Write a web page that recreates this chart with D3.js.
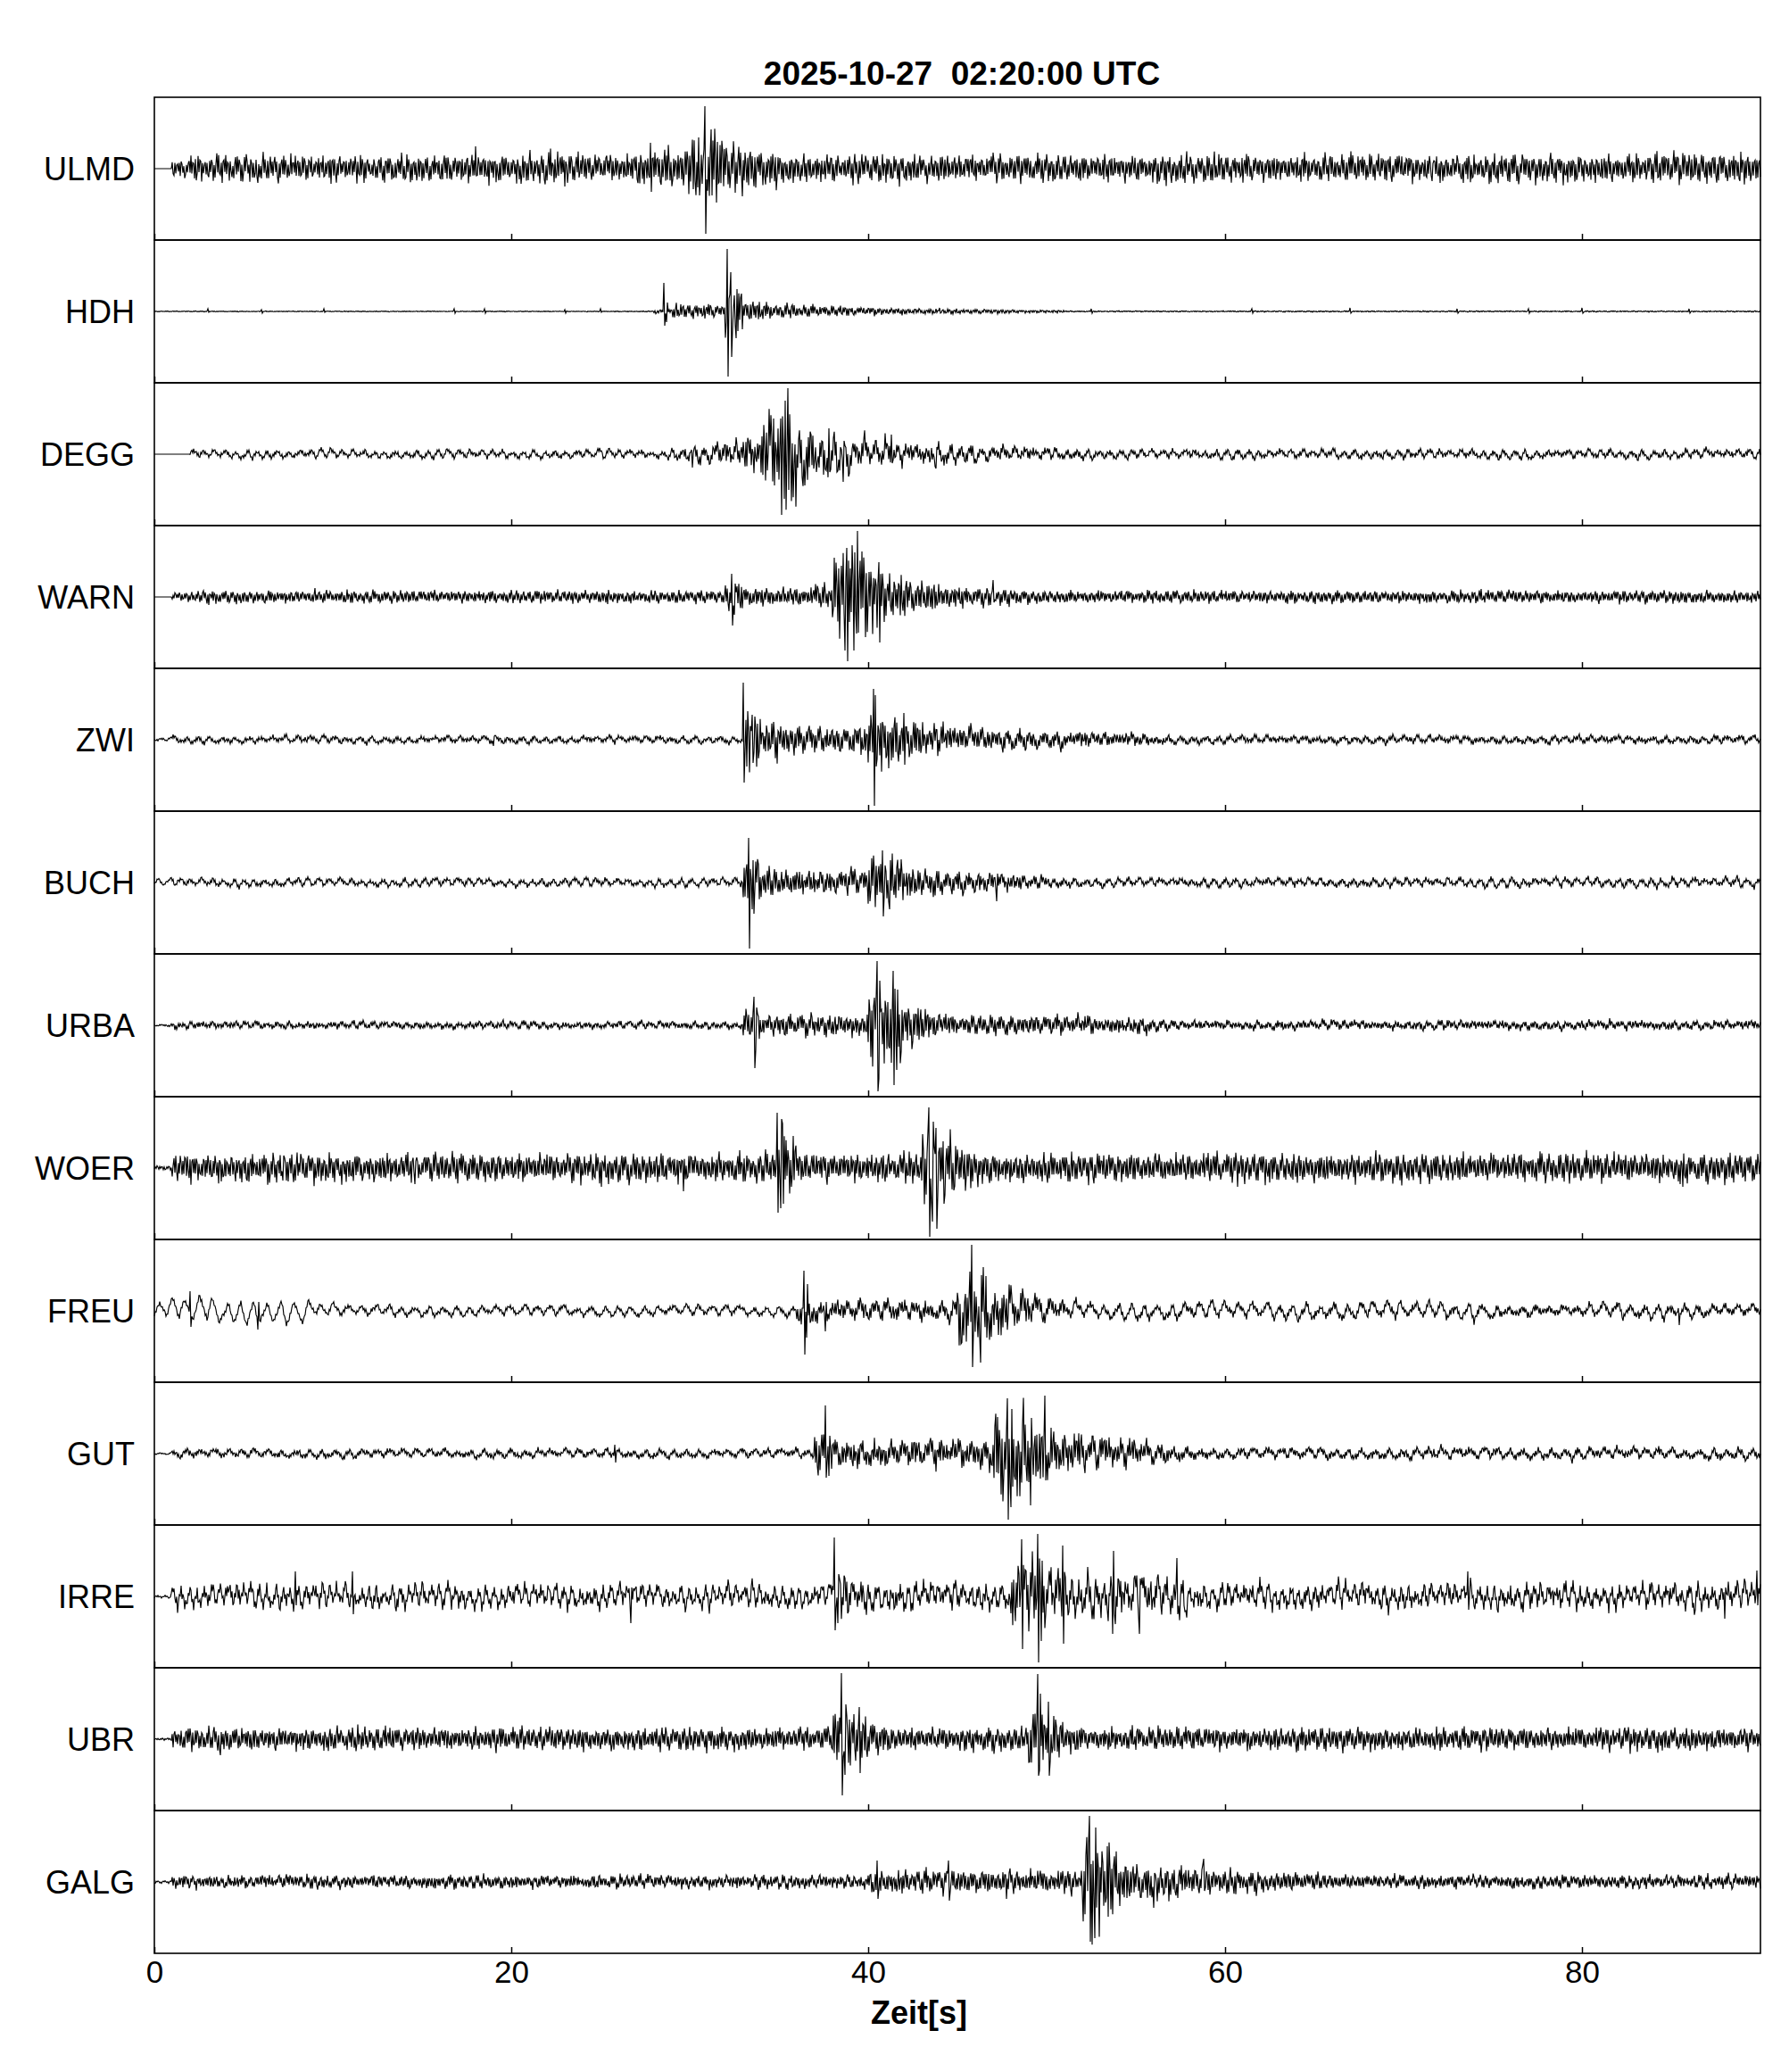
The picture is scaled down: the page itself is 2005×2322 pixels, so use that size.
<!DOCTYPE html>
<html><head><meta charset="utf-8">
<script src="https://cdn.jsdelivr.net/npm/d3@7"></script>
<style>html,body{margin:0;padding:0;background:#fff;}svg{display:block;}</style>
</head><body>
<svg id="chart" width="2005" height="2322"></svg>
<script>
// ---------------- DATA ----------------
const title = "2025-10-27  02:20:00 UTC";
const xLabel = "Zeit[s]";
const stations = ["ULMD","HDH","DEGG","WARN","ZWI","BUCH","URBA","WOER","FREU","GUT","IRRE","UBR","GALG"];
const xTicks = [0,20,40,60,80];
const timeRange = [0,90];

// high-frequency envelope per second (relative amplitude units), bins 0..89
const hiULMD = [0,10,13,13,13,13,13,13,13,13, 13,13,12,13,13,13,14,14,15,14, 14,15,15,14,13,13,14,18,20,20,
  30,32,24,20,18,16,14,14,13,14, 13,14,13,13,14,13,13,14,13,13, 14,13,13,14,13,13,14,13,13,14,
  13,14,13,13,14,13,13,14,13,14, 13,14,13,14,13,14,14,13,14,14, 14,14,13,14,15,15,15,15,16,16];
const hiHDH = [0.4,0.4,0.4,0.4,0.4,0.4,0.4,0.4,0.4,0.4, 0.4,0.4,0.4,0.4,0.4,0.4,0.4,0.4,0.4,0.4, 0.4,0.4,0.4,0.4,0.4,0.4,0.4,0.4,2,7,
  7,7,24,12,8,7,6,5,5,4, 4,3.5,3,2.5,2.5,2,2,2,1.5,1.5, 1.5,0.6,0.6,0.6,0.6,0.6,0.6,0.6,0.6,0.6,
  0.6,0.6,0.6,0.6,0.6,0.6,0.6,0.6,0.6,0.6, 0.6,0.6,0.6,0.6,0.6,0.6,0.6,0.6,0.6,0.6, 0.6,0.6,0.6,0.6,0.6,0.6,0.6,0.6,0.6,0.6];
const hiDEGG = [0,0,2.5,2.5,2.5,2.5,2.5,2.5,2.5,2.5, 2.5,2.5,2.5,2.5,2.5,2.5,2.5,2.5,2.5,2.5, 2.5,2.5,2.5,2.5,2.5,2.5,2.5,2.5,2.5,5,
  7,8,10,15,35,45,25,18,16,12, 10,9,8,8,7,7,6,6,5,5, 4,4,3,3,3,3,3,3,3,3,
  3,3,3,3,3,3,3,3,3,3, 3,3,3,3,3,3,3,3,3,3, 3,3,3,3,3,3,3,3,3,3];
const hiWARN = [0,4,6,6,6,6,6,6,6,6, 6,6,6,6,6,6,6,6,6,6, 6,6,6,6,6,6,6,6,6,6,
  6,6,14,10,9,9,9,12,40,45, 30,22,18,15,12,10,9,8,7,6, 6,6,6,6,6,6,6,6,6,6,
  6,6,6,6,6,6,6,6,6,6, 6,6,6,6,6,6,6,6,6,6, 6,6,6,6,6,6,6,6,6,6];
const hiZWI = [1,2.5,2.5,2.5,2.5,2.5,2.5,2.5,2.5,2.5, 2.5,2.5,2.5,2.5,2.5,2.5,2.5,2.5,2.5,2.5, 2.5,2.5,2.5,2.5,2.5,2.5,2.5,2.5,2.5,2.5,
  2.5,2.5,2.5,28,18,14,12,12,12,14, 30,25,18,14,12,11,10,9,9,8, 8,7,7,6,6,5,4,3,3,3,
  3,3,3,3,3,3,3,3,3,3, 3,3,3,3,3,3,3,3,3,3, 3,3,3,3,3,3,3,3,3,3];
const hiBUCH = [1.5,2.5,2.5,2.5,2.5,2.5,2.5,2.5,2.5,2.5, 2.5,2.5,2.5,2.5,2.5,2.5,2.5,2.5,2.5,2.5, 2.5,2.5,2.5,2.5,2.5,2.5,2.5,2.5,2.5,2.5,
  2.5,2.5,2.5,25,14,12,12,11,11,12, 24,22,15,12,11,10,9,8,7,5, 4,3,3,3,3,3,3,3,3,3,
  3,3,3,3,3,3,3,3,3,3, 3,3,3,3,3,3,3,3,3,3, 3,3,3,3,3,3,3,3,3,3];
const hiURBA = [1,3,3,3,3,3,3,3,3,3, 3,3,3,3,3,3,3,3,3,3, 3,3,3,3,3,3,3,3,3,3,
  3,3,3,16,10,10,10,10,10,10, 40,40,22,15,10,9,9,9,9,9, 9,9,9,7,7,7,5,4,4,4,
  4,4,4,4,4,4,4,4,4,4, 4,4,4,4,4,4,4,4,4,4, 4,4,4,4,4,4,4,4,4,4];
const hiWOER = [2,14,14,14,14,14,14,14,14,14, 14,14,14,14,14,14,14,14,14,14, 14,14,14,14,14,14,14,14,14,15,
  14,14,14,14,15,28,14,14,14,14, 14,14,15,38,30,20,16,14,14,14, 14,14,14,14,14,14,14,14,14,14,
  14,14,14,14,14,14,14,14,14,14, 14,14,14,14,14,14,14,14,14,14, 14,14,14,14,14,14,14,14,14,14];
const hiFREU = [2.5,2.5,2.5,2.5,2.5,2.5,2.5,2.5,2.5,2.5, 2.5,2.5,2.5,2.5,2.5,2.5,2.5,2.5,2.5,2.5, 2.5,2.5,2.5,2.5,2.5,2.5,2.5,2.5,2.5,2.5,
  2.5,2.5,2.5,2.5,2.5,2.5,12,8,8,8, 8,8,8,8,8,35,30,22,15,10, 8,5,4,4,4,4,4,4,4,4,
  4,4,4,4,4,4,4,4,4,4, 4,4,4,4,4,4,4,4,4,4, 4,4,4,4,4,4,4,4,4,4];
const hiGUT = [0.5,3,3,3,3,3,3,3,3,3, 3,3,3,3,3,3,3,3,3,3, 3,3,3,3,3,3,3,3,3,3,
  3,3,3,3,3,3,3,20,12,12, 12,12,12,12,12,12,13,40,40,35, 22,18,15,13,12,10,8,6,5,4,
  4,4,4,4,4,4,4,4,4,4, 4,4,4,4,4,4,4,4,4,4, 4,4,4,4,4,4,4,4,4,4];
const hiIRRE = [1,7,7,7,7,7,7,7,7,7, 7,7,7,7,7,7,7,7,7,7, 7,7,7,7,7,7,7,7,7,7,
  7,7,7,7,7,7,7,7,20,12, 9,9,9,9,9,9,9,9,30,30, 20,15,15,15,15,15,14,13,8,8,
  8,8,8,8,8,8,8,8,8,8, 8,8,8,8,8,8,8,8,8,8, 8,8,8,8,8,8,8,8,8,8];
const hiUBR = [1,11,11,11,11,11,11,11,11,11, 11,11,11,11,11,11,11,11,11,11, 11,11,11,11,11,11,11,11,11,11,
  11,11,11,11,11,11,11,11,30,24, 16,12,11,11,11,11,11,11,11,30, 22,14,11,11,11,11,11,11,11,11,
  11,11,11,11,11,11,11,11,11,11, 11,11,11,11,11,11,11,11,11,11, 11,11,11,11,11,11,11,11,11,11];
const hiGALG = [1,6,6,6,6,6,6,6,6,6, 6,6,6,6,6,6,6,6,6,6, 6,6,6,6,6,6,6,6,6,6,
  6,6,6,6,6,6,6,6,6,6, 12,11,11,11,11,11,11,11,11,11, 11,11,45,35,20,17,16,15,14,12,
  11,10,9,9,8,8,7,7,6,6, 6,6,6,6,6,6,6,6,6,6, 6,6,6,6,6,6,6,6,6,6];

// low-frequency envelope per second (stations showing longer-period wiggles)
const loDEGG = [0,0,5,5,6,5,5,5,5,6, 5,5,6,5,5,5,6,5,5,5, 5,6,5,5,5,6,5,5,5,7,
  8,8,9,12,25,40,25,20,18,14, 12,11,10,9,9,8,8,7,7,7, 6,5,6,5,5,6,5,6,5,5,
  6,5,5,6,5,5,6,5,5,6, 5,6,5,5,6,5,5,6,5,5, 6,5,5,6,5,5,6,5,5,6];
const loZWI = [1,4,4,4,4,4,4,4,4,4, 4,4,4,4,4,4,4,4,4,4, 4,4,4,4,4,4,4,4,4,4,
  4,4,4,6,5,5,5,5,5,5, 6,6,6,6,6,6,6,6,6,6, 6,4,4,4,4,4,4,4,4,4,
  4,4,4,4,4,4,4,4,4,4, 4,4,4,4,4,4,4,4,4,4, 4,4,4,4,4,4,4,4,4,4];
const loBUCH = [5,5,5,5,5,5,5,5,5,5, 5,5,5,5,5,5,5,5,5,5, 5,5,5,5,5,5,5,5,5,5,
  5,5,5,6,6,6,6,6,6,6, 6,6,6,6,6,6,6,6,5,5, 5,5,5,5,5,5,5,5,5,5,
  5,5,5,5,5,5,5,5,5,5, 5,5,6,6,6,6,6,6,6,6, 6,6,6,6,6,6,6,6,6,6];
const loURBA = [1,3,3,3,3,3,3,3,3,3, 3,3,3,3,3,3,3,3,3,3, 3,3,3,3,3,3,3,3,3,3,
  3,3,3,4,4,4,4,4,4,4, 4,4,4,4,4,4,4,4,4,4, 4,4,4,4,4,4,3,3,3,3,
  3,3,3,3,3,3,3,3,3,3, 3,3,3,3,3,3,3,3,3,3, 3,3,3,3,3,3,3,3,3,3];
const loFREU = [9,18,18,18,18,18,18,18,17,9, 7,7,7,7,7,7,7,7,7,7, 7,7,7,7,7,7,7,7,7,7,
  7,7,7,7,7,7,10,9,9,9, 9,9,9,9,9,25,28,22,16,12, 11,11,11,11,11,11,11,11,11,11,
  11,11,11,11,11,11,11,11,11,11, 11,11,11,11,11,5,5,5,5,5, 10,10,10,10,10,7,7,7,7,7];
const loGUT = [1,5,5,5,5,5,5,5,5,5, 5,5,5,5,5,5,5,5,5,5, 5,5,5,5,5,5,5,5,5,5,
  5,5,5,5,5,5,5,8,8,8, 8,8,8,8,8,8,8,15,20,15, 10,10,10,10,10,8,7,6,6,6,
  6,6,6,6,6,6,6,6,6,6, 6,6,6,6,6,6,6,6,6,6, 6,6,6,6,6,6,6,6,6,6];
const loIRRE = [2,13,13,13,13,13,13,13,13,13, 13,13,13,13,13,13,13,13,13,13, 13,13,13,13,13,13,13,13,13,13,
  13,13,13,13,13,13,13,13,20,14, 14,14,14,14,14,14,14,14,30,30, 25,22,22,22,22,22,22,22,13,13,
  13,13,13,13,13,13,13,13,13,13, 13,13,13,13,13,13,13,13,13,13, 13,13,13,13,13,15,15,15,15,15];
const loGALG = [1,3,3,3,3,3,3,3,3,3, 3,3,3,3,3,3,3,3,3,3, 3,3,3,3,3,3,3,3,3,3,
  3,3,3,3,3,3,3,3,3,3, 3,3,3,3,3,3,3,3,3,3, 3,3,8,8,8,8,8,8,8,3,
  3,3,3,3,3,3,3,3,3,3, 3,3,3,3,3,3,3,3,3,3, 3,3,3,3,3,3,3,3,3,3];

// half-period (s) of the low-frequency wiggles, per station (0 = none)
const loHalfPeriod = [0,0,0.3,0,0.35,0.3,0.3,0,0.38,0.38,0.22,0,0.2];

// individual large swings: [time s, first extreme, next extreme]
const spikesULMD = [[5.8,-16,5],[9.9,-17,8],[18.0,25,-8],[23.0,-20,8],[27.8,29,-26],[30.5,35,-30],[30.85,70,-73],[31.2,44,-30],[31.5,-38,30],[57.0,-16,5],[71.6,-14,6]];
const spikesHDH = [[3.0,3,-1],[6.0,2,-2],[9.5,3,-1],[16.8,3,-2],[18.5,3,-2],[23.0,2,-2],[25.0,3,-1],[28.55,32,-16],[28.7,-12,10],[32.1,70,-73],[32.3,44,-51],[32.6,-30,25],[32.9,20,-20],[44.0,4,-2],[52.5,3,-2],[61.5,3,-2],[67.0,4,-2],[73.0,3,-2],[77.0,3,-2],[80.0,4,-2],[86.0,3,-2]];
const spikesDEGG = [[30.1,5,-15],[34.7,40,-35],[35.1,40,-68],[35.3,-50,60],[35.5,74,-40],[37.8,29,-20],[38.6,-31,15],[41.3,22,-10],[43.8,-16,8]];
const spikesWARN = [[9.0,10,-4],[25.4,-8,8],[32.35,26,-32],[32.5,-20,15],[38.8,55,-72],[39.2,-60,50],[39.4,74,-40],[40.6,39,-51],[47.0,19,-6]];
const spikesZWI = [[19.0,-7,4],[33.0,64,-48],[33.2,-30,32],[33.5,28,-26],[40.3,57,-74],[40.4,50,-30],[42.0,30,-28]];
const spikesBUCH = [[33.3,50,-74],[33.5,-30,25],[40.8,36,-38],[41.2,-30,25],[47.2,-21,10]];
const spikesURBA = [[33.6,32,-48],[33.7,-28,20],[40.5,72,-74],[40.6,-60,50],[41.4,61,-67],[41.6,-50,40]];
const spikesWOER = [[7.2,-14,14],[14.6,-18,8],[29.6,8,-26],[34.9,62,-50],[35.1,-45,55],[35.2,50,-40],[43.4,68,-77],[43.6,-60,52],[43.8,45,-68],[44.2,30,-40],[85.6,5,-21]];
const spikesFREU = [[2.0,22,-18],[5.8,-21,10],[36.4,45,-49],[36.55,-30,30],[37.6,-23,10],[45.8,74,-63],[46.3,-58,40],[46.6,39,-30],[85.4,3,-16]];
const spikesGUT = [[25.8,10,-10],[37.6,54,-27],[37.8,-25,20],[47.8,62,-74],[48.0,-60,50],[49.1,-58,40],[49.9,65,-30]];
const spikesIRRE = [[7.9,28,-10],[11.1,28,-20],[26.7,-30,10],[38.1,66,-38],[38.3,-30,25],[48.6,64,-59],[49.5,70,-74],[49.7,-50,40],[50.9,57,-53],[53.7,-42,51],[55.2,-42,20],[57.3,43,-20],[73.6,28,-15],[88.0,-25,10],[89.8,29,-10]];
const spikesUBR = [[3.7,-18,8],[38.5,74,-63],[38.7,-40,39],[39.5,36,-38],[49.5,73,-41],[49.6,-35,51],[50.1,42,-41]];
const spikesGALG = [[40.5,24,-19],[44.5,24,-21],[47.7,8,-19],[52.4,74,-67],[52.7,-63,61],[53.4,40,-39],[56.0,-29,10],[58.8,26,-10]];

// wave shape multipliers used to draw the oscillation inside the envelopes
const shapeHi = [0.62,0.95,0.41,0.78,0.33,0.88,0.57,1.0,0.46,0.71,0.28,0.83,0.52,0.67,0.38,0.92,0.6,0.44,0.76,0.35,0.86,0.5,0.69];
const shapeHi2 = [1.12,0.8,1.4,0.95,0.62,1.23,1.06,0.67,1.5,0.9,0.73,1.12,1.34,0.56,1.0,1.18,0.84,1.45,0.67,1.06,0.95,1.29,0.62,1.12,0.8,1.4,1.0,0.67,1.23,0.9,1.12];
const signHi = [1,-1,1,-1,1,1,-1,1,-1,-1,1,-1,1];
const shapeLo = [0.8,0.55,1.0,0.65,0.9,0.45,0.75,0.6,0.95,0.5,0.85,0.7,0.4];
const periodLo = [1.0,0.75,1.3,0.9,1.2,0.7,1.1,1.35,0.8,1.0,0.85];

const hiEnv = [hiULMD,hiHDH,hiDEGG,hiWARN,hiZWI,hiBUCH,hiURBA,hiWOER,hiFREU,hiGUT,hiIRRE,hiUBR,hiGALG];
const loEnv = [null,null,loDEGG,null,loZWI,loBUCH,loURBA,null,loFREU,loGUT,loIRRE,null,loGALG];
const spikeList = [spikesULMD,spikesHDH,spikesDEGG,spikesWARN,spikesZWI,spikesBUCH,spikesURBA,spikesWOER,spikesFREU,spikesGUT,spikesIRRE,spikesUBR,spikesGALG];

// ---------------- LAYOUT ----------------
(function(){
const W = 2005, H = 2322;
const plotLeft = 173, plotRight = 1973, plotTop = 109, panelH = 160;
const font = "'Liberation Sans', Arial, Helvetica, sans-serif";
const svg = d3.select("#chart");
svg.append("rect").attr("width",W).attr("height",H).attr("fill","#fff");

const x = d3.scaleLinear().domain(timeRange).range([plotLeft,plotRight]);
const dt = 0.05;

function buildTrace(i){
  const hi = hiEnv[i], lo = loEnv[i], hp = loHalfPeriod[i];
  const n = Math.round((timeRange[1]-timeRange[0])/dt);
  const off = i*5;
  const bin = t => Math.max(0, Math.min(89, Math.floor(t + 1e-9)));
  const peaks = [];
  if (lo && hp > 0){
    let tp = 0, j = 0;
    while (tp <= timeRange[1] + 1){
      const s = (j % 2 ? 1 : -1);
      peaks.push([tp, s * lo[bin(tp)] * shapeLo[(j + off) % shapeLo.length]]);
      tp += hp * periodLo[(j + i) % periodLo.length];
      j++;
    }
  }
  const pts = [];
  let p = 0;
  for (let k=0; k<=n; k++){
    const t = k*dt;
    const s = signHi[(k + off) % signHi.length];
    let v = s * hi[bin(t)] * shapeHi[(k + off) % shapeHi.length] * shapeHi2[(k*7 + off) % shapeHi2.length];
    if (peaks.length){
      while (p < peaks.length - 2 && peaks[p+1][0] <= t) p++;
      const a = peaks[p], b = peaks[p+1];
      const f = (t - a[0]) / (b[0] - a[0]);
      v += a[1]*(1-f) + b[1]*f;
    }
    pts.push([t, v]);
  }
  spikeList[i].forEach(([t,a,b]) => {
    const k = Math.round(t/dt);
    if (k < pts.length) pts[k][1] = a;
    if (k+1 < pts.length) pts[k+1][1] = b;
  });
  return pts;
}

stations.forEach((name, i) => {
  const y0 = plotTop + i*panelH;
  const y = d3.scaleLinear().domain([-80,80]).range([y0+panelH, y0]);
  const g = svg.append("g");
  const line = d3.line().x(d => x(d[0])).y(d => y(Math.max(-79, Math.min(79, d[1]))));
  g.append("path").datum(buildTrace(i)).attr("d", line)
    .attr("fill","none").attr("stroke","#000").attr("stroke-width",1.15).attr("stroke-linejoin","miter");
  const ax = g.append("g").attr("transform",`translate(0,${y0+panelH})`)
    .call(d3.axisBottom(x).tickValues(xTicks).tickSize(-7).tickPadding(8)
      .tickFormat(i === stations.length-1 ? d3.format("d") : ""));
  ax.select(".domain").remove();
  ax.selectAll(".tick line").attr("stroke","#000").attr("stroke-width",1.5);
  ax.selectAll(".tick text").attr("font-family",font).attr("font-size",35).attr("fill","#000");
  g.append("rect").attr("x",plotLeft).attr("y",y0).attr("width",plotRight-plotLeft).attr("height",panelH)
    .attr("fill","none").attr("stroke","#000").attr("stroke-width",1.6);
  g.append("text").attr("x",151).attr("y",y(0)+13).attr("text-anchor","end")
    .attr("font-family",font).attr("font-size",36).attr("fill","#000").text(name);
});

svg.append("text").attr("x",1078).attr("y",95).attr("text-anchor","middle")
  .attr("font-family",font).attr("font-weight","bold").attr("font-size",37)
  .style("white-space","pre").text(title);
svg.append("text").attr("x",1030).attr("y",2268).attr("text-anchor","middle")
  .attr("font-family",font).attr("font-weight","bold").attr("font-size",36).text(xLabel);
})();
</script>
</body></html>
